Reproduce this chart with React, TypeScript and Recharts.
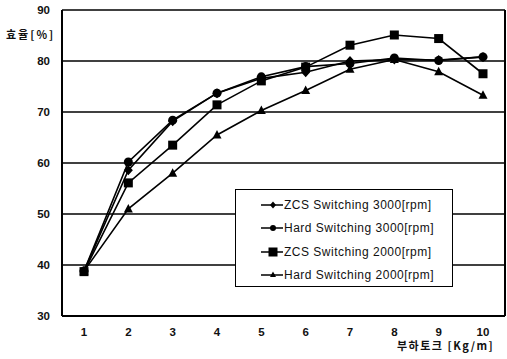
import { LineChart, Line, XAxis, YAxis, CartesianGrid } from 'recharts';

const torque = [1, 2, 3, 4, 5, 6, 7, 8, 9, 10];
const zcs3000 = [38.8, 58.6, 68.2, 73.7, 76.6, 77.8, 80.0, 80.3, 80.2, 80.8];
const hard3000 = [38.8, 60.2, 68.4, 73.7, 76.9, 78.9, 79.5, 80.6, 80.1, 80.8];
const zcs2000 = [38.7, 56.1, 63.5, 71.4, 76.1, 78.8, 83.1, 85.1, 84.4, 77.5];
const hard2000 = [38.8, 51.0, 58.0, 65.5, 70.3, 74.2, 78.4, 80.3, 77.9, 73.3];
const yTicks = [30, 40, 50, 60, 70, 80, 90];

type Shape = 'diamond' | 'circle' | 'square' | 'triangle';

const series: { key: string; name: string; shape: Shape; values: number[] }[] = [
  { key: 'zcs3000', name: 'ZCS Switching 3000[rpm]', shape: 'diamond', values: zcs3000 },
  { key: 'hard3000', name: 'Hard Switching 3000[rpm]', shape: 'circle', values: hard3000 },
  { key: 'zcs2000', name: 'ZCS Switching 2000[rpm]', shape: 'square', values: zcs2000 },
  { key: 'hard2000', name: 'Hard Switching 2000[rpm]', shape: 'triangle', values: hard2000 },
];

const data = torque.map((t, i) => {
  const row: Record<string, number> = { x: t };
  series.forEach((s) => {
    row[s.key] = s.values[i];
  });
  return row;
});

const font = '"Liberation Sans", Arial, sans-serif';
const krFont = '"Noto Sans CJK KR", sans-serif';

const Marker = ({ shape, cx, cy, r = 4.5 }: { shape: Shape; cx: number; cy: number; r?: number }) => {
  if (shape === 'diamond')
    return <polygon points={`${cx},${cy - r - 0.5} ${cx + r},${cy} ${cx},${cy + r + 0.5} ${cx - r},${cy}`} fill="#000" />;
  if (shape === 'circle') return <circle cx={cx} cy={cy} r={r} fill="#000" />;
  if (shape === 'square') return <rect x={cx - r} y={cy - r} width={r * 2} height={r * 2} fill="#000" />;
  return <polygon points={`${cx},${cy - r - 0.5} ${cx + r},${cy + r - 1} ${cx - r},${cy + r - 1}`} fill="#000" />;
};

const makeDot = (shape: Shape) => (props: any) => {
  const { cx, cy, index } = props;
  if (cx == null || cy == null) return <g key={index} />;
  return (
    <g key={index}>
      <Marker shape={shape} cx={cx} cy={cy} />
    </g>
  );
};

// legend drawn as a plain box over the plot, like the original
const LegendBox = () => (
  <div
    style={{
      position: 'absolute',
      left: 235,
      top: 189,
      width: 218,
      height: 98,
      border: '1.5px solid #000',
      background: '#fff',
      boxSizing: 'border-box',
      padding: '3px 0 0 0',
      fontFamily: font,
      fontSize: 12,
      letterSpacing: 0.5,
      color: '#111',
    }}
  >
    {series.map((s) => (
      <div key={s.key} style={{ display: 'flex', alignItems: 'center', height: 23.5 }}>
        <svg width={48} height={12} style={{ display: 'block' }}>
          <line x1={25} y1={6} x2={47} y2={6} stroke="#000" strokeWidth={1.5} />
          <Marker shape={s.shape} cx={37} cy={6} r={s.shape === 'square' ? 4.5 : 3} />
        </svg>
        <span>{s.name}</span>
      </div>
    ))}
  </div>
);

export default function App() {
  return (
    <div style={{ position: 'fixed', left: 0, top: 0, width: 507, height: 359, background: '#fff' }}>
      <LineChart width={507} height={359} data={data} margin={{ top: 10, right: 0, bottom: 0, left: 0 }}>
        <CartesianGrid vertical={false} stroke="#000" strokeWidth={1.5} />
        <XAxis
          dataKey="x"
          height={43}
          padding={{ left: 22, right: 22 }}
          tickLine={false}
          tickMargin={6}
          axisLine={{ stroke: '#000', strokeWidth: 2 }}
          tick={{ fill: '#111', fontSize: 11.5, fontWeight: 'bold', fontFamily: font }}
        />
        <YAxis
          domain={[30, 90]}
          ticks={yTicks}
          width={62}
          tickLine={false}
          tickMargin={6}
          axisLine={{ stroke: '#000', strokeWidth: 2 }}
          tick={{ fill: '#111', fontSize: 11.5, fontWeight: 'bold', fontFamily: font }}
        />
        <YAxis
          yAxisId="right"
          orientation="right"
          domain={[30, 90]}
          ticks={yTicks}
          width={2}
          tick={false}
          tickLine={false}
          axisLine={{ stroke: '#000', strokeWidth: 2 }}
        />
        {series.map((s) => (
          <Line
            key={s.key}
            dataKey={s.key}
            name={s.name}
            stroke="#000"
            strokeWidth={1.6}
            dot={makeDot(s.shape)}
            activeDot={false}
            isAnimationActive={false}
          />
        ))}
      </LineChart>
      <LegendBox />
      <div
        style={{
          position: 'absolute',
          left: 6,
          top: 26,
          fontFamily: krFont,
          fontSize: 11,
          fontWeight: 'bold',
          letterSpacing: 2,
          color: '#111',
        }}
      >
        효율[%]
      </div>
      <div
        style={{
          position: 'absolute',
          left: 397,
          top: 337,
          fontFamily: krFont,
          fontSize: 11,
          fontWeight: 'bold',
          letterSpacing: 1.5,
          color: '#111',
        }}
      >
        부하토크 [Kg/m]
      </div>
    </div>
  );
}
